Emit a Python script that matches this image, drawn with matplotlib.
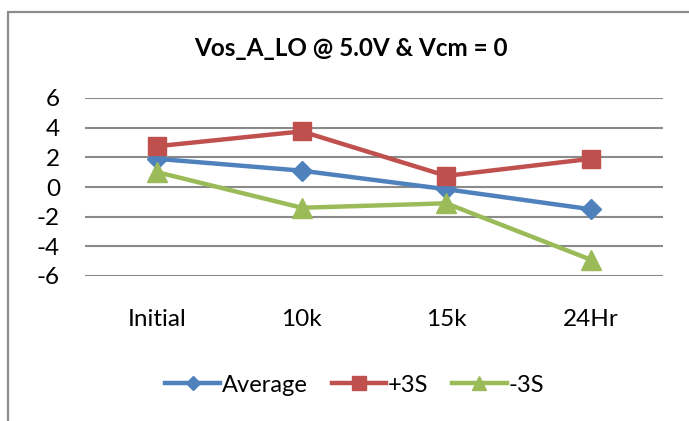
import matplotlib
matplotlib.use("Agg")
import matplotlib.pyplot as plt
from matplotlib.patches import Rectangle

plt.rcParams['font.family'] = ['Lato', 'DejaVu Sans']

categories = ["Initial", "10k", "15k", "24Hr"]
average = [1.9, 1.1, -0.15, -1.5]
plus3s = [2.75, 3.75, 0.75, 1.9]
minus3s = [1.0, -1.4, -1.1, -4.9]
yticks = [-6, -4, -2, 0, 2, 4, 6]
title = "Vos_A_LO @ 5.0V & Vcm = 0"

W, H = 689, 421
fig = plt.figure(figsize=(W / 100, H / 100), dpi=100)

# chart-area border (cropped on right/bottom)
fig.patches.append(Rectangle((8 / W, -0.1), 1.2, 1 - 12 / H + 0.1,
                             transform=fig.transFigure, fill=False,
                             edgecolor="#8c8c8c", linewidth=1.6))

ax = fig.add_axes([85 / W, (H - 276) / H, (663 - 85) / W, (276 - 98) / H])
x = list(range(len(categories)))

blue, red, green = "#4F81BD", "#C0504D", "#9BBB59"
ax.plot(x, average, color=blue, lw=3.2, marker="D", ms=10, mec=blue, label="Average", zorder=3)
ax.plot(x, plus3s, color=red, lw=3.2, marker="s", ms=13.5, mec=red, label="+3S", zorder=3)
ax.plot(x, minus3s, color=green, lw=3.2, marker="^", ms=14, mec=green, label="-3S", zorder=3)

ax.set_xlim(-0.5, 3.5)
ax.set_ylim(-6, 6)
ax.set_yticks(yticks)
ax.set_yticklabels([str(v) for v in yticks])
ax.set_xticks(x)
ax.set_xticklabels(categories)
ax.yaxis.grid(True, color="#8a8a8a", linewidth=1.5)
ax.set_axisbelow(True)
for s in ax.spines.values():
    s.set_visible(False)
ax.tick_params(axis="y", length=0, pad=18, labelsize=17.5)
ax.tick_params(axis="x", length=0, pad=24, labelsize=17.5)

fig.text(351 / W, 1 - 49 / H, title, ha="center", va="center",
         fontsize=17.5, fontweight="bold")

fig.legend(loc="center", bbox_to_anchor=(355 / W, (H - 385) / H), ncol=3,
           frameon=False, fontsize=17, handlelength=2.3, markerscale=0.75,
           columnspacing=1.0, handletextpad=0.1)

fig.savefig("out.png", dpi=100)
